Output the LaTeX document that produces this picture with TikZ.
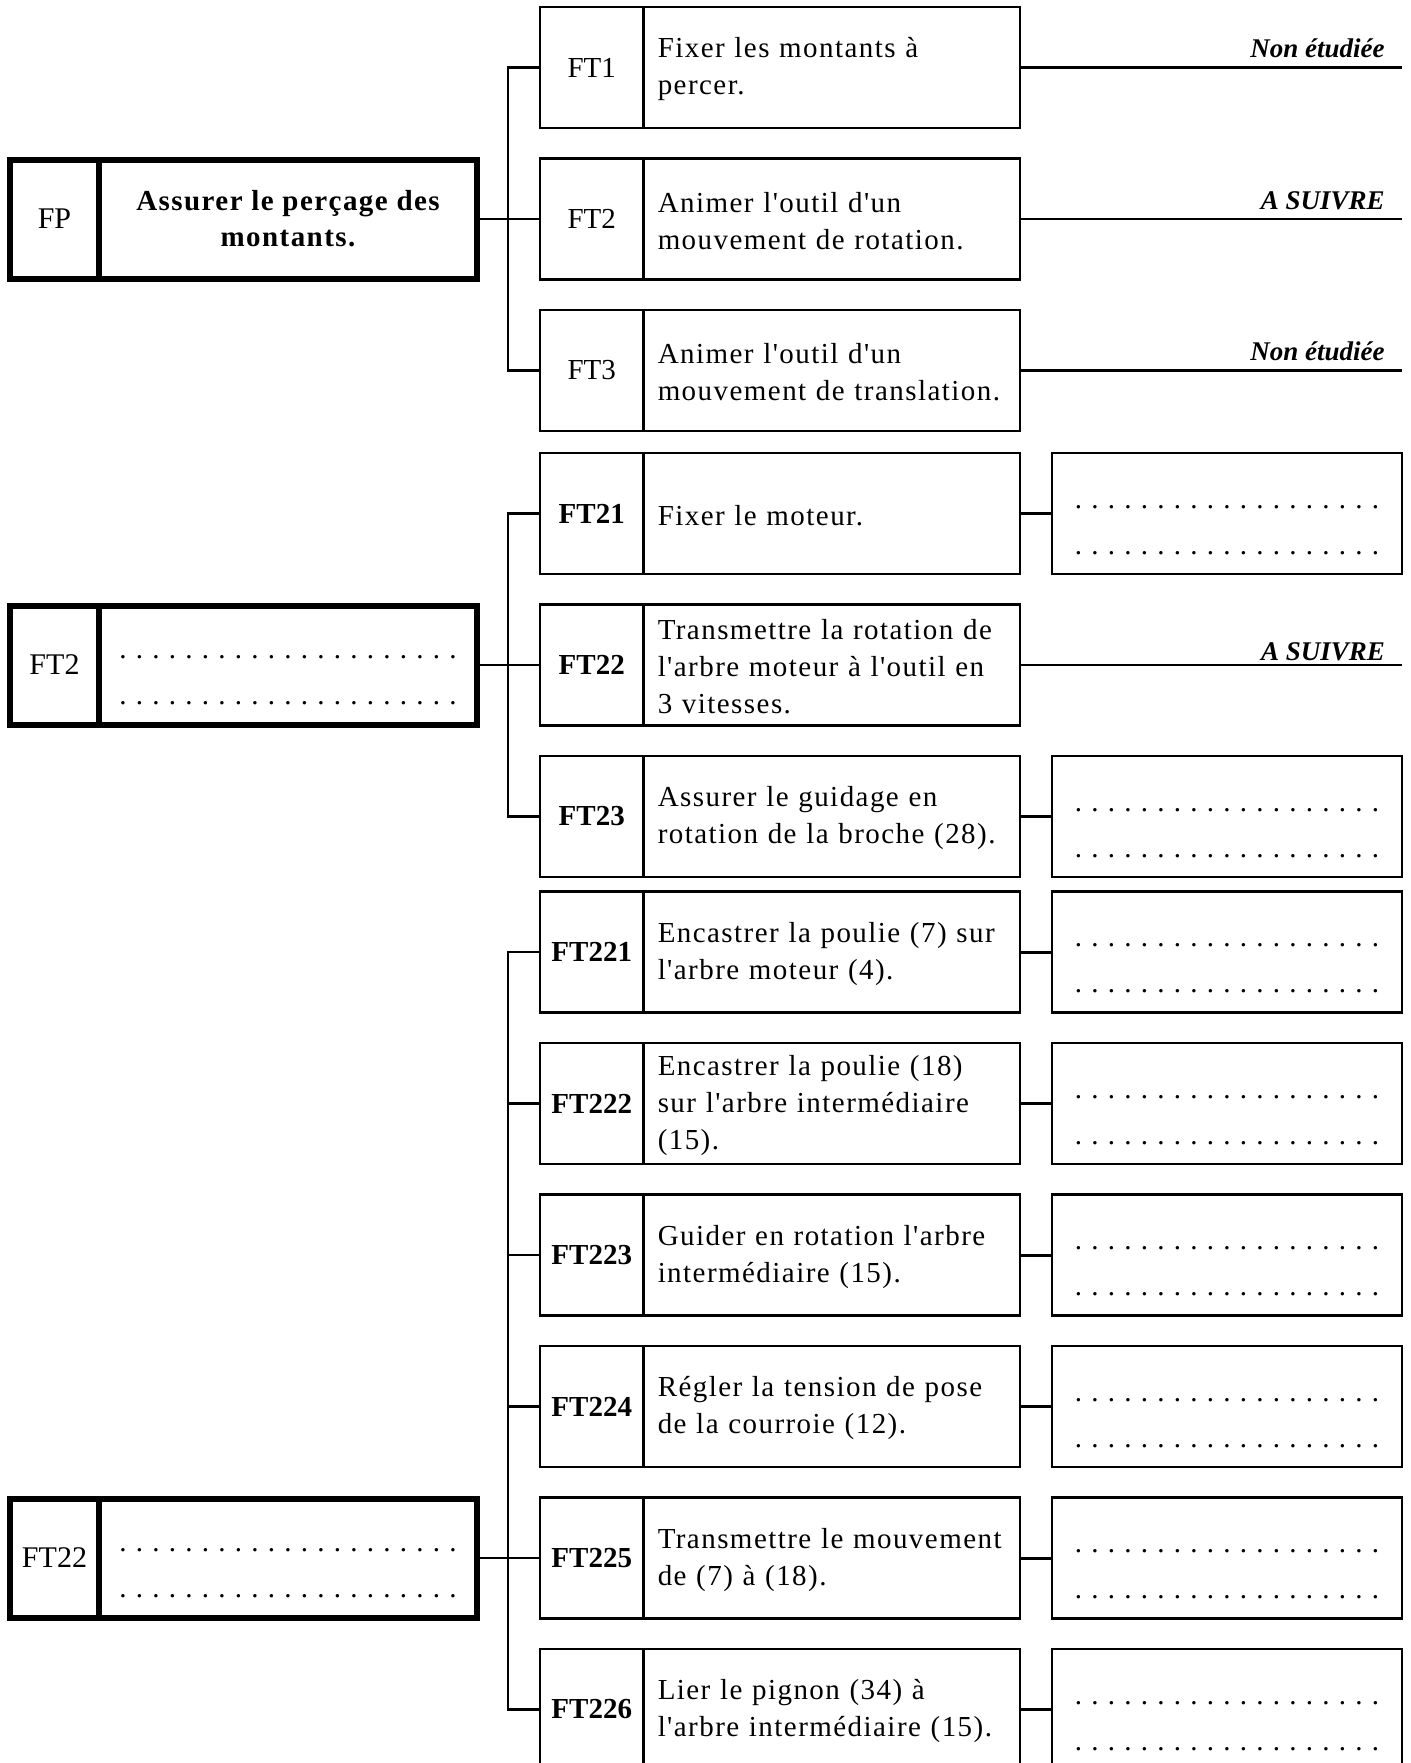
\documentclass[tikz,border=0pt]{standalone}
\usepackage{fontspec}
\setmainfont{Liberation Serif}
\newfontfamily\spaced[LetterSpace=5,Ligatures=TeXOff]{Liberation Serif}
\usetikzlibrary{positioning}
\newcommand\dotline[1]{\hbox to \dimexpr 8.25pt*#1+0.05pt\relax{\xleaders\hbox to 8.25pt{\hss.\hss}\hfill}}
\newcommand\dotpair[2]{\rule{0pt}{#2}\dotline{#1}\\\dotline{#1}}

\begin{document}
\begin{tikzpicture}[x=0.5pt,y=-0.5pt,
  font=\spaced\fontsize{14.5}{18.5}\selectfont,
  codebox/.style={draw,line width=1.35pt,outer sep=0pt,inner sep=0pt,
                  minimum width=51.75pt,minimum height=60.5pt,font=\fontsize{14.5}{18.5}\selectfont},
  textbox/.style={draw,line width=1.35pt,outer sep=0pt,inner xsep=7.1pt,inner ysep=0pt,
                  minimum width=188.25pt,minimum height=60.5pt,text width=174pt,align=left,
                  execute at begin node=\rule{0pt}{12pt}},
  replybox/.style={draw,line width=1.35pt,outer sep=0pt,inner sep=0pt,
                  minimum width=175pt,minimum height=60.5pt,align=center,
                  font=\spaced\fontsize{14.5}{23}\selectfont},
  mainbox/.style={draw,line width=3pt,outer sep=0pt,inner sep=0pt,
                  minimum width=44.5pt,minimum height=59.5pt,font=\fontsize{15}{18.5}\selectfont},
  maintext/.style={draw,line width=3pt,outer sep=0pt,inner sep=0pt,
                  minimum width=189pt,minimum height=59.5pt,align=center,
                  font=\spaced\fontsize{14.5}{23}\selectfont},
  trunk/.style={line width=1.1pt},
  stub/.style={line width=1.5pt},
  lead/.style={line width=1.3pt},
  tag/.style={font=\bfseries\itshape\fontsize{13.5}{16}\selectfont,anchor=base east,inner sep=0pt}
]
\useasboundingbox (0,0) rectangle (1410,1763);
\clip (0,0) rectangle (1410,1763);
\coordinate (edge) at (1402,0);

% FP
\node[mainbox] (fp) at (54.5,219) {FP};
\node[maintext,right=0pt of fp,font=\spaced\bfseries\fontsize{14.5}{18}\selectfont] (fpt)
  {Assurer le perçage des\\montants.};

\node[codebox] (c1) at (591.75,67.5) {FT1};
\node[textbox,right=0pt of c1] (t1) {Fixer les montants à\\percer.};
\node[codebox] (c2) at (591.75,219) {FT2};
\node[textbox,right=0pt of c2] (t2) {Animer l'outil d'un\\mouvement de rotation.};
\node[codebox] (c3) at (591.75,370.5) {FT3};
\node[textbox,right=0pt of c3] (t3) {Animer l'outil d'un\\mouvement de translation.};

\coordinate (j1) at (508,219);
\draw[trunk] (fpt.east) -- (c2.west);
\draw[trunk] (c1.west) -| (j1) |- (c3.west);
\draw[lead] (t1.east) -- (t1.east -| edge) node[tag,xshift=-8pt,yshift=5pt] (n1) {Non étudiée};
\draw[lead] (t2.east) -- (t2.east -| edge) node[tag,xshift=-8pt,yshift=5pt] (n2) {A SUIVRE};
\draw[lead] (t3.east) -- (t3.east -| edge) node[tag,xshift=-8pt,yshift=5pt] (n3) {Non étudiée};

% FT2
\node[mainbox] (m2) at (54.5,665) {FT2};
\node[maintext,right=0pt of m2] (m2t) {\dotpair{21}{16.5pt}};

\node[codebox] (c21) at (591.75,513.5) {\bfseries FT21};
\node[textbox,right=0pt of c21] (t21) {Fixer le moteur.};
\node[codebox] (c22) at (591.75,665) {\bfseries FT22};
\node[textbox,right=0pt of c22] (t22) {Transmettre la rotation de\\l'arbre moteur à l'outil en\\3 vitesses.};
\node[codebox] (c23) at (591.75,816.5) {\bfseries FT23};
\node[textbox,right=0pt of c23] (t23) {Assurer le guidage en\\rotation de la broche (28).};

\node[replybox] (r21) at (1227,513.5) {\dotpair{19}{18pt}};
\node[replybox] (r23) at (1227,816.5) {\dotpair{19}{18pt}};

\coordinate (j2) at (508,665);
\draw[trunk] (m2t.east) -- (c22.west);
\draw[trunk] (c21.west) -| (j2) |- (c23.west);
\draw[lead,line width=1pt] (t22.east) -- (t22.east -| edge) node[tag,xshift=-8pt,yshift=2.5pt] (n22) {A SUIVRE};

% FT22
\node[mainbox] (m22) at (54.5,1558) {FT22};
\node[maintext,right=0pt of m22] (m22t) {\dotpair{21}{16.5pt}};

\node[codebox] (c221) at (591.75,952) {\bfseries FT221};
\node[textbox,right=0pt of c221] (t221) {Encastrer la poulie (7) sur\\l'arbre moteur (4).};
\node[codebox] (c222) at (591.75,1103.5) {\bfseries FT222};
\node[textbox,right=0pt of c222] (t222) {Encastrer la poulie (18)\\sur l'arbre intermédiaire\\(15).};
\node[codebox] (c223) at (591.75,1255) {\bfseries FT223};
\node[textbox,right=0pt of c223] (t223) {Guider en rotation l'arbre\\intermédiaire (15).};
\node[codebox] (c224) at (591.75,1406.5) {\bfseries FT224};
\node[textbox,right=0pt of c224] (t224) {Régler la tension de pose\\de la courroie (12).};
\node[codebox] (c225) at (591.75,1558) {\bfseries FT225};
\node[textbox,right=0pt of c225] (t225) {Transmettre le mouvement\\de (7) à (18).};
\node[codebox] (c226) at (591.75,1709.5) {\bfseries FT226};
\node[textbox,right=0pt of c226] (t226) {Lier le pignon (34) à\\l'arbre intermédiaire (15).};

\foreach \n/\y in {221/952,222/1103.5,223/1255,224/1406.5,225/1558,226/1709.5}
  \node[replybox] (r\n) at (1227,\y) {\dotpair{19}{18pt}};

\coordinate (j3) at (508,1558);
\draw[trunk] (m22t.east) -- (c225.west);
\draw[trunk] (c221.west) -| (j3) |- (c226.west);
\foreach \n in {222,223,224} \draw[trunk] (c\n.west) -- (c\n.west -| j3);

\foreach \n in {21,23,221,222,223,224,225,226} \draw[stub] (t\n.east) -- (r\n.west);
\end{tikzpicture}
\end{document}
